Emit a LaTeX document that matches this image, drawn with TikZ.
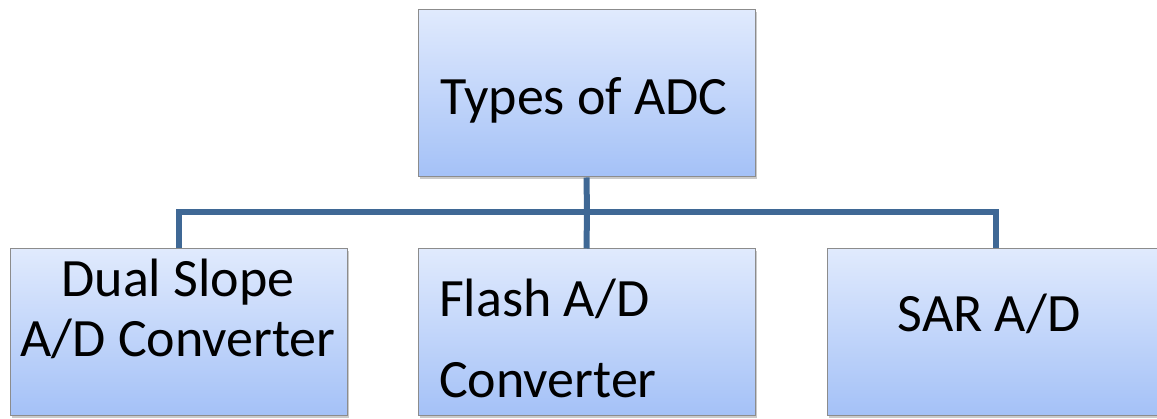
\documentclass[tikz,border=0pt]{standalone}
\usepackage{fontspec}
\setmainfont{Carlito}
\usetikzlibrary{positioning,shadows}

\definecolor{boxtop}{HTML}{E0EAFD}
\definecolor{boxbot}{HTML}{A4C1F7}
\definecolor{boxline}{HTML}{8C8C8C}
\definecolor{linkblue}{HTML}{3F6895}

\begin{document}
\begin{tikzpicture}[x=1pt,y=1pt,
  node distance=71pt and 70pt,
  box/.style={draw=boxline, line width=1pt, top color=boxtop, bottom color=boxbot,
    minimum width=337pt, minimum height=167pt, inner sep=0pt,
    drop shadow={shadow xshift=1.5pt, shadow yshift=-2pt, opacity=0.35, fill=black!60}},
  lbl/.style={font=\fontsize{54}{60}\selectfont, inner sep=0pt, align=center},
  link/.style={draw=linkblue, line width=6pt}]
  \clip (0,0) rectangle (1157,419);

  % boxes
  \node[box] (adc) at (586.5,325.5) {};
  \node[box, below=of adc] (flash) {};
  \node[box, left=of flash] (dual) {};
  \node[box, right=71pt of flash] (sar) {};

  % texts (base = last line)
  \node[lbl, anchor=base] (adc-t) at (584,304) {Types of ADC};
  \node[lbl, anchor=base] (dual-t) at (178,62) {Dual Slope\\A/D Converter};
  \node[lbl, anchor=base west, align=left, font=\fontsize{54}{81}\selectfont]
    (flash-t) at (439,21) {Flash A/D\\Converter};
  \node[lbl, anchor=base] (sar-t) at (989,87) {SAR A/D};

  % tree lines
  \coordinate (bus) at (587,207);
  \draw[link] (adc.south) -- (bus);
  \draw[link] (dual.north) |- (bus) -| (sar.north);
  \draw[link] (bus) -- (flash.north);
\end{tikzpicture}
\end{document}
